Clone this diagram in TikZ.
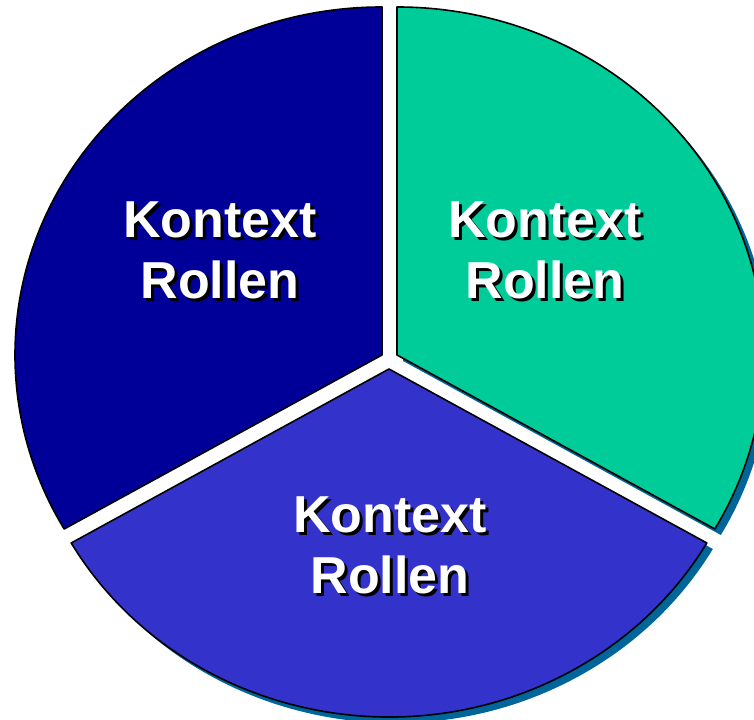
\documentclass[tikz,border=0pt]{standalone}
\usepackage{fontspec}
\setmainfont{Liberation Sans}
\definecolor{kdark}{RGB}{0,0,153}
\definecolor{kteal}{RGB}{0,204,153}
\definecolor{kmid}{RGB}{51,51,204}
\definecolor{kshade}{RGB}{0,102,153}

\begin{document}
\begin{tikzpicture}[
  x=0.75pt, y=0.75pt,
  wedge/.style={draw=black,line width=1.2pt,line join=round},
  wedgeshade/.style={fill=kshade,draw=none,transform canvas={shift={(6,-6)}}},
  rolltext/.style={text=white,align=center,inner sep=0pt,
    font=\fontsize{39}{45.75}\selectfont\bfseries},
  rollshade/.style={rolltext,text=black,xshift=2.2pt,yshift=-2.2pt}
]
\useasboundingbox (0,0) rectangle (754,720);
\clip (0,0) rectangle (754,720);

% apex of each slice
\coordinate (apexL) at (382,365);
\coordinate (apexR) at (397,365);
\coordinate (apexB) at (389,351);

% shadows
\fill[wedgeshade] (apexR) -- ++(0,348)
  arc[start angle=90,end angle=-30,x radius=367,y radius=348] -- cycle;
\fill[wedgeshade] (apexB) -- ++(-317.8,-174)
  arc[start angle=210,end angle=330,x radius=367,y radius=348] -- cycle;

% slices
\draw[wedge,fill=kdark] (apexL) -- ++(0,348)
  arc[start angle=90,end angle=210,x radius=367,y radius=348] -- cycle;
\draw[wedge,fill=kteal] (apexR) -- ++(0,348)
  arc[start angle=90,end angle=-30,x radius=367,y radius=348] -- cycle;
\draw[wedge,fill=kmid] (apexB) -- ++(-317.8,-174)
  arc[start angle=210,end angle=330,x radius=367,y radius=348] -- cycle;

% labels
\node[rollshade] (leftshade) at (220,470) {Kontext\\Rollen};
\node[rolltext] (lefttext) at (220,470) {Kontext\\Rollen};
\node[rollshade] (rightshade) at (545,470) {Kontext\\Rollen};
\node[rolltext] (righttext) at (545,470) {Kontext\\Rollen};
\node[rollshade] (bottomshade) at (390,175) {Kontext\\Rollen};
\node[rolltext] (bottomtext) at (390,175) {Kontext\\Rollen};
\end{tikzpicture}
\end{document}
